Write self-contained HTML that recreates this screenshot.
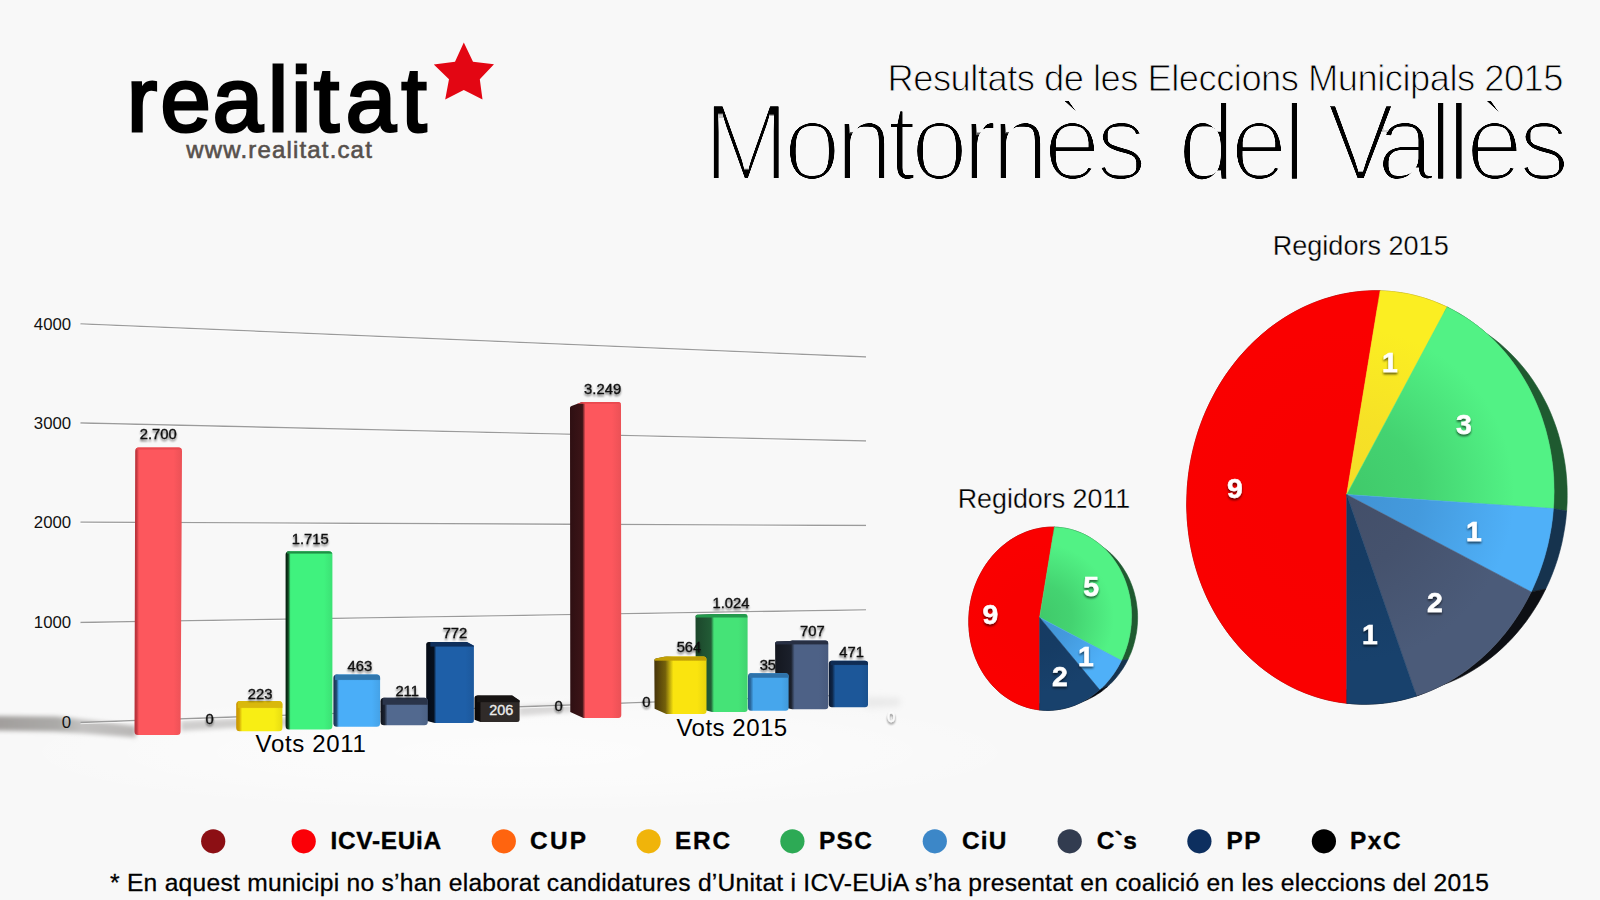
<!DOCTYPE html>
<html lang="ca">
<head>
<meta charset="utf-8">
<title>Resultats de les Eleccions Municipals 2015 - Montornès del Vallès</title>
<style>
html,body{margin:0;padding:0;background:#f8f8f8;}
body{width:1600px;height:900px;overflow:hidden;font-family:"Liberation Sans", Arial, Helvetica, sans-serif;}
svg{display:block;}
svg text{font-family:"Liberation Sans", Arial, Helvetica, sans-serif;}
</style>
</head>
<body>
<svg width="1600" height="900" viewBox="0 0 1600 900">
<defs>
<filter id="thin" x="-2%" y="-10%" width="104%" height="130%"><feMorphology operator="erode" radius="2 2" result="e"/><feComponentTransfer in="e"><feFuncA type="linear" slope="1.7" intercept="-0.05"/></feComponentTransfer></filter>
<filter id="blur4" x="-20%" y="-200%" width="140%" height="500%"><feGaussianBlur stdDeviation="3.2"/></filter>
<filter id="blur2" x="-20%" y="-200%" width="140%" height="500%"><feGaussianBlur stdDeviation="2"/></filter>
<linearGradient id="flsh" gradientUnits="userSpaceOnUse" x1="0" y1="0" x2="136" y2="0"><stop offset="0" stop-color="#a29f9d"/><stop offset="0.42" stop-color="#abaaa8"/><stop offset="0.6" stop-color="#c2c1c0"/><stop offset="1" stop-color="#b9b7b6"/></linearGradient>
<radialGradient id="floorglow" cx="0.5" cy="0.5" r="0.5"><stop offset="0" stop-color="#fff" stop-opacity="0.6"/><stop offset="0.6" stop-color="#fff" stop-opacity="0.35"/><stop offset="1" stop-color="#fff" stop-opacity="0"/></radialGradient>
<filter id="lblsh" x="-20%" y="-30%" width="140%" height="190%"><feGaussianBlur in="SourceAlpha" stdDeviation="1.1" result="b"/><feOffset in="b" dx="0" dy="1.6" result="o"/><feComponentTransfer in="o" result="s"><feFuncA type="linear" slope="0.55"/></feComponentTransfer><feMerge><feMergeNode in="s"/><feMergeNode in="SourceGraphic"/></feMerge></filter>
<linearGradient id="bg1" gradientUnits="userSpaceOnUse" x1="474.5" y1="0" x2="519.6" y2="0"><stop offset="0" stop-color="#0b0909"/><stop offset="0.111" stop-color="#0f0c0c"/><stop offset="0.155" stop-color="#302b29"/><stop offset="0.82" stop-color="#302b29"/><stop offset="1" stop-color="#2d2826"/></linearGradient>
<clipPath id="bc2"><path d="M477.00,695.60 L512.20,695.60 L519.60,700.60 L519.60,719.50 Q519.60,722.00 517.10,722.00 L480.50,722.00 L474.50,719.80 L474.50,698.10 Q474.50,695.60 477.00,695.60 Z"/></clipPath>
<linearGradient id="tg3" gradientUnits="userSpaceOnUse" x1="0" y1="695.6" x2="0" y2="702.8000000000001"><stop offset="0" stop-color="#171413"/><stop offset="0.833" stop-color="#171413"/><stop offset="1" stop-color="#171413" stop-opacity="0"/></linearGradient>
<linearGradient id="bg4" gradientUnits="userSpaceOnUse" x1="426.2" y1="0" x2="473.9" y2="0"><stop offset="0" stop-color="#050b16"/><stop offset="0.159" stop-color="#06101f"/><stop offset="0.210" stop-color="#1e5fa8"/><stop offset="0.82" stop-color="#1e5fa8"/><stop offset="1" stop-color="#1c589c"/></linearGradient>
<clipPath id="bc5"><path d="M428.70,642.00 L466.90,642.00 L473.90,645.80 L473.90,720.50 Q473.90,723.00 471.40,723.00 L434.80,723.00 L426.20,720.80 L426.20,644.50 Q426.20,642.00 428.70,642.00 Z"/></clipPath>
<linearGradient id="tg6" gradientUnits="userSpaceOnUse" x1="0" y1="642" x2="0" y2="647.2"><stop offset="0" stop-color="#0e2f5c"/><stop offset="0.769" stop-color="#0e2f5c"/><stop offset="1" stop-color="#0e2f5c" stop-opacity="0"/></linearGradient>
<linearGradient id="bg7" gradientUnits="userSpaceOnUse" x1="380.5" y1="0" x2="427.8" y2="0"><stop offset="0" stop-color="#0e1119"/><stop offset="0.085" stop-color="#1c2331"/><stop offset="0.148" stop-color="#52698f"/><stop offset="0.82" stop-color="#52698f"/><stop offset="1" stop-color="#4c6285"/></linearGradient>
<clipPath id="bc8"><path d="M384.00,697.80 L424.30,697.80 Q427.80,697.80 427.80,701.30 L427.80,721.70 Q427.80,725.20 424.30,725.20 L384.00,725.20 Q380.50,725.20 380.50,721.70 L380.50,701.30 Q380.50,697.80 384.00,697.80 Z"/></clipPath>
<linearGradient id="tg9" gradientUnits="userSpaceOnUse" x1="0" y1="697.8" x2="0" y2="705.4"><stop offset="0" stop-color="#2a3449"/><stop offset="0.842" stop-color="#2a3449"/><stop offset="1" stop-color="#2a3449" stop-opacity="0"/></linearGradient>
<linearGradient id="bg10" gradientUnits="userSpaceOnUse" x1="333.4" y1="0" x2="380.1" y2="0"><stop offset="0" stop-color="#18324e"/><stop offset="0.064" stop-color="#224b70"/><stop offset="0.118" stop-color="#4aaef8"/><stop offset="0.82" stop-color="#4aaef8"/><stop offset="1" stop-color="#45a2e7"/></linearGradient>
<clipPath id="bc11"><path d="M336.90,674.40 L376.60,674.40 Q380.10,674.40 380.10,677.90 L380.10,723.30 Q380.10,726.80 376.60,726.80 L336.90,726.80 Q333.40,726.80 333.40,723.30 L333.40,677.90 Q333.40,674.40 336.90,674.40 Z"/></clipPath>
<linearGradient id="tg12" gradientUnits="userSpaceOnUse" x1="0" y1="674.4" x2="0" y2="680.6"><stop offset="0" stop-color="#3077ae"/><stop offset="0.806" stop-color="#3077ae"/><stop offset="1" stop-color="#3077ae" stop-opacity="0"/></linearGradient>
<linearGradient id="bg13" gradientUnits="userSpaceOnUse" x1="285.6" y1="0" x2="332.4" y2="0"><stop offset="0" stop-color="#04190a"/><stop offset="0.056" stop-color="#104421"/><stop offset="0.107" stop-color="#40f27e"/><stop offset="0.82" stop-color="#40f27e"/><stop offset="1" stop-color="#3ce175"/></linearGradient>
<clipPath id="bc14"><path d="M289.10,551.20 L328.90,551.20 Q332.40,551.20 332.40,554.70 L332.40,726.10 Q332.40,729.60 328.90,729.60 L289.10,729.60 Q285.60,729.60 285.60,726.10 L285.60,554.70 Q285.60,551.20 289.10,551.20 Z"/></clipPath>
<linearGradient id="tg15" gradientUnits="userSpaceOnUse" x1="0" y1="551.2" x2="0" y2="554.2"><stop offset="0" stop-color="#1f8f45"/><stop offset="0.600" stop-color="#1f8f45"/><stop offset="1" stop-color="#1f8f45" stop-opacity="0"/></linearGradient>
<linearGradient id="bg16" gradientUnits="userSpaceOnUse" x1="236.2" y1="0" x2="282.4" y2="0"><stop offset="0" stop-color="#c99300"/><stop offset="0.065" stop-color="#d2a504"/><stop offset="0.130" stop-color="#f8ee14"/><stop offset="0.82" stop-color="#f8ee14"/><stop offset="1" stop-color="#e7dd13"/></linearGradient>
<clipPath id="bc17"><path d="M239.70,701.00 L278.90,701.00 Q282.40,701.00 282.40,704.50 L282.40,727.70 Q282.40,731.20 278.90,731.20 L239.70,731.20 Q236.20,731.20 236.20,727.70 L236.20,704.50 Q236.20,701.00 239.70,701.00 Z"/></clipPath>
<linearGradient id="tg18" gradientUnits="userSpaceOnUse" x1="0" y1="701" x2="0" y2="708.6"><stop offset="0" stop-color="#d9b80c"/><stop offset="0.842" stop-color="#d9b80c"/><stop offset="1" stop-color="#d9b80c" stop-opacity="0"/></linearGradient>
<linearGradient id="bg19" gradientUnits="userSpaceOnUse" x1="135.2" y1="0" x2="182" y2="0"><stop offset="0" stop-color="#b8323a"/><stop offset="0.034" stop-color="#c63941"/><stop offset="0.081" stop-color="#fd575d"/><stop offset="0.82" stop-color="#fd575d"/><stop offset="1" stop-color="#eb5156"/></linearGradient>
<clipPath id="bc20"><path d="M138.70,447.50 L178.50,447.50 Q182.00,447.50 182.00,451.00 L180.60,731.50 Q180.60,735.00 177.10,735.00 L138.00,735.00 Q134.50,735.00 134.50,731.50 L135.20,451.00 Q135.20,447.50 138.70,447.50 Z"/></clipPath>
<linearGradient id="tg21" gradientUnits="userSpaceOnUse" x1="0" y1="447.5" x2="0" y2="450.09999999999997"><stop offset="0" stop-color="#e8494f"/><stop offset="0.538" stop-color="#e8494f"/><stop offset="1" stop-color="#e8494f" stop-opacity="0"/></linearGradient>
<linearGradient id="bg22" gradientUnits="userSpaceOnUse" x1="828.8" y1="0" x2="868" y2="0"><stop offset="0" stop-color="#0a1830"/><stop offset="0.089" stop-color="#0e2545"/><stop offset="0.166" stop-color="#1c5799"/><stop offset="0.82" stop-color="#1c5799"/><stop offset="1" stop-color="#1a518e"/></linearGradient>
<clipPath id="bc23"><path d="M831.80,660.80 L865.00,660.80 Q868.00,660.80 868.00,663.80 L868.00,704.20 Q868.00,707.20 865.00,707.20 L831.80,707.20 Q828.80,707.20 828.80,704.20 L828.80,663.80 Q828.80,660.80 831.80,660.80 Z"/></clipPath>
<linearGradient id="tg24" gradientUnits="userSpaceOnUse" x1="0" y1="660.8" x2="0" y2="665.6"><stop offset="0" stop-color="#0f2c54"/><stop offset="0.750" stop-color="#0f2c54"/><stop offset="1" stop-color="#0f2c54" stop-opacity="0"/></linearGradient>
<linearGradient id="bg25" gradientUnits="userSpaceOnUse" x1="775.1" y1="0" x2="828.3" y2="0"><stop offset="0" stop-color="#14171f"/><stop offset="0.301" stop-color="#1b202b"/><stop offset="0.367" stop-color="#4d6186"/><stop offset="0.82" stop-color="#4d6186"/><stop offset="1" stop-color="#485a7d"/></linearGradient>
<clipPath id="bc26"><path d="M775.10,643.20 Q775.10,642.20 776.60,641.60 L790.10,640.90 Q791.10,640.60 792.60,640.60 L825.30,640.60 Q828.30,640.60 828.30,643.60 L828.30,706.30 Q828.30,709.30 825.30,709.30 L792.10,709.30 L775.40,705.30 Z"/></clipPath>
<linearGradient id="tg27" gradientUnits="userSpaceOnUse" x1="0" y1="640.6" x2="0" y2="645.0000000000001"><stop offset="0" stop-color="#272f43"/><stop offset="0.727" stop-color="#272f43"/><stop offset="1" stop-color="#272f43" stop-opacity="0"/></linearGradient>
<linearGradient id="bg28" gradientUnits="userSpaceOnUse" x1="748" y1="0" x2="788.6" y2="0"><stop offset="0" stop-color="#245a8a"/><stop offset="0.062" stop-color="#2b699e"/><stop offset="0.135" stop-color="#46a6ec"/><stop offset="0.82" stop-color="#46a6ec"/><stop offset="1" stop-color="#419adb"/></linearGradient>
<clipPath id="bc29"><path d="M751.00,673.20 L785.60,673.20 Q788.60,673.20 788.60,676.20 L788.60,707.80 Q788.60,710.80 785.60,710.80 L751.00,710.80 Q748.00,710.80 748.00,707.80 L748.00,676.20 Q748.00,673.20 751.00,673.20 Z"/></clipPath>
<linearGradient id="tg30" gradientUnits="userSpaceOnUse" x1="0" y1="673.2" x2="0" y2="678.4000000000001"><stop offset="0" stop-color="#2e72aa"/><stop offset="0.769" stop-color="#2e72aa"/><stop offset="1" stop-color="#2e72aa" stop-opacity="0"/></linearGradient>
<linearGradient id="bg31" gradientUnits="userSpaceOnUse" x1="695.5" y1="0" x2="747.6" y2="0"><stop offset="0" stop-color="#1c462b"/><stop offset="0.298" stop-color="#225c36"/><stop offset="0.355" stop-color="#45e377"/><stop offset="0.82" stop-color="#45e377"/><stop offset="1" stop-color="#40d36f"/></linearGradient>
<clipPath id="bc32"><path d="M695.50,616.30 Q695.50,615.30 697.00,614.70 L710.00,614.20 Q711.00,613.90 712.50,613.90 L744.60,613.90 Q747.60,613.90 747.60,616.90 L747.60,708.90 Q747.60,711.90 744.60,711.90 L712.00,711.90 L695.80,707.40 Z"/></clipPath>
<linearGradient id="tg33" gradientUnits="userSpaceOnUse" x1="0" y1="613.9" x2="0" y2="618.1"><stop offset="0" stop-color="#249a4d"/><stop offset="0.714" stop-color="#249a4d"/><stop offset="1" stop-color="#249a4d" stop-opacity="0"/></linearGradient>
<linearGradient id="bg34" gradientUnits="userSpaceOnUse" x1="654.3" y1="0" x2="706.5" y2="0"><stop offset="0" stop-color="#46340a"/><stop offset="0.211" stop-color="#73600b"/><stop offset="0.364" stop-color="#fae40f"/><stop offset="0.82" stop-color="#fae40f"/><stop offset="1" stop-color="#e8d40e"/></linearGradient>
<clipPath id="bc35"><path d="M654.30,660.00 Q654.30,659.00 655.80,658.40 L664.30,656.70 Q665.30,656.40 666.80,656.40 L703.50,656.40 Q706.50,656.40 706.50,659.40 L706.50,711.00 Q706.50,714.00 703.50,714.00 L666.30,714.00 L654.60,708.70 Z"/></clipPath>
<linearGradient id="tg36" gradientUnits="userSpaceOnUse" x1="0" y1="656.4" x2="0" y2="661.3000000000001"><stop offset="0" stop-color="#c2a005"/><stop offset="0.755" stop-color="#c2a005"/><stop offset="1" stop-color="#c2a005" stop-opacity="0"/></linearGradient>
<linearGradient id="bg37" gradientUnits="userSpaceOnUse" x1="570" y1="0" x2="621" y2="0"><stop offset="0" stop-color="#2e0f12"/><stop offset="0.243" stop-color="#3c1417"/><stop offset="0.302" stop-color="#fd575d"/><stop offset="0.82" stop-color="#fd575d"/><stop offset="1" stop-color="#eb5156"/></linearGradient>
<clipPath id="bc38"><path d="M570.00,407.70 Q570.00,406.70 571.50,406.10 L581.40,402.30 Q582.40,402.00 583.90,402.00 L618.00,402.00 Q621.00,402.00 621.00,405.00 L621.30,715.00 Q621.30,718.00 618.30,718.00 L583.40,718.00 L570.30,712.00 Z"/></clipPath>
<linearGradient id="tg39" gradientUnits="userSpaceOnUse" x1="0" y1="402" x2="0" y2="404.4"><stop offset="0" stop-color="#e9494f"/><stop offset="0.500" stop-color="#e9494f"/><stop offset="1" stop-color="#e9494f" stop-opacity="0"/></linearGradient>
<filter id="pielbl" x="-40%" y="-30%" width="180%" height="190%"><feGaussianBlur in="SourceAlpha" stdDeviation="0.9" result="b"/><feOffset in="b" dx="0.4" dy="1.5" result="o"/><feComponentTransfer in="o" result="s"><feFuncA type="linear" slope="0.6"/></feComponentTransfer><feMerge><feMergeNode in="s"/><feMergeNode in="SourceGraphic"/></feMerge></filter>
<radialGradient id="rg40" gradientUnits="userSpaceOnUse" cx="1346.7" cy="494.5" r="209.5"><stop offset="0" stop-color="#f80000"/><stop offset="0.35" stop-color="#f80000"/><stop offset="0.8" stop-color="#fa0000"/><stop offset="1" stop-color="#fa0000"/></radialGradient>
<radialGradient id="rg41" gradientUnits="userSpaceOnUse" cx="1346.7" cy="494.5" r="209.5"><stop offset="0" stop-color="#f4dd28"/><stop offset="0.35" stop-color="#f6e126"/><stop offset="0.8" stop-color="#fbee22"/><stop offset="1" stop-color="#fbee22"/></radialGradient>
<radialGradient id="rg42" gradientUnits="userSpaceOnUse" cx="1346.7" cy="494.5" r="209.5"><stop offset="0" stop-color="#40c96a"/><stop offset="0.35" stop-color="#44d371"/><stop offset="0.8" stop-color="#52f285"/><stop offset="1" stop-color="#52f285"/></radialGradient>
<radialGradient id="rg43" gradientUnits="userSpaceOnUse" cx="1346.7" cy="494.5" r="209.5"><stop offset="0" stop-color="#4193d4"/><stop offset="0.35" stop-color="#449add"/><stop offset="0.8" stop-color="#4fb0f8"/><stop offset="1" stop-color="#4fb0f8"/></radialGradient>
<radialGradient id="rg44" gradientUnits="userSpaceOnUse" cx="1346.7" cy="494.5" r="209.5"><stop offset="0" stop-color="#434f69"/><stop offset="0.35" stop-color="#45526d"/><stop offset="0.8" stop-color="#4b5b79"/><stop offset="1" stop-color="#4b5b79"/></radialGradient>
<radialGradient id="rg45" gradientUnits="userSpaceOnUse" cx="1346.7" cy="494.5" r="209.5"><stop offset="0" stop-color="#163b62"/><stop offset="0.35" stop-color="#163c64"/><stop offset="0.8" stop-color="#18416c"/><stop offset="1" stop-color="#18416c"/></radialGradient>
<radialGradient id="rg46" gradientUnits="userSpaceOnUse" cx="1039.6" cy="617.4" r="92.8"><stop offset="0" stop-color="#f80000"/><stop offset="0.35" stop-color="#f80000"/><stop offset="0.8" stop-color="#fa0000"/><stop offset="1" stop-color="#fa0000"/></radialGradient>
<radialGradient id="rg47" gradientUnits="userSpaceOnUse" cx="1039.6" cy="617.4" r="92.8"><stop offset="0" stop-color="#40c96a"/><stop offset="0.35" stop-color="#44d371"/><stop offset="0.8" stop-color="#52f285"/><stop offset="1" stop-color="#52f285"/></radialGradient>
<radialGradient id="rg48" gradientUnits="userSpaceOnUse" cx="1039.6" cy="617.4" r="92.8"><stop offset="0" stop-color="#4193d4"/><stop offset="0.35" stop-color="#449add"/><stop offset="0.8" stop-color="#4fb0f8"/><stop offset="1" stop-color="#4fb0f8"/></radialGradient>
<radialGradient id="rg49" gradientUnits="userSpaceOnUse" cx="1039.6" cy="617.4" r="92.8"><stop offset="0" stop-color="#163b62"/><stop offset="0.35" stop-color="#163c64"/><stop offset="0.8" stop-color="#18416c"/><stop offset="1" stop-color="#18416c"/></radialGradient>
</defs>
<rect width="1600" height="900" fill="#f8f8f8"/>
<g id="logo">
<text x="127.1 160.4 212.8 268 291.2 314 345.7 401.6" y="130.5" font-size="90.3" fill="#000" stroke="#000" stroke-width="3.05" stroke-linejoin="miter">realitat</text>
<text x="186.3" y="157.8" font-size="24" fill="#57504c" textLength="185.5" lengthAdjust="spacing" stroke="#57504c" stroke-width="0.6">www.realitat.cat</text>
<polygon fill="#e30613" points="463.8,42.5 473,61.8 494,64.2 479.8,79.2 482.5,99.5 463.8,90 445.2,99.5 449,79.2 433.8,64.5 455,61.8"/>
</g>
<g id="titles">
<g filter="url(#thin)">
<text transform="translate(703.6,179.8) scale(0.94,1)" font-size="109" fill="#000"><tspan letter-spacing="-5.42">Montornès </tspan><tspan x="504.57" letter-spacing="-4.7">del </tspan><tspan x="662.55" letter-spacing="-19.2">V</tspan><tspan letter-spacing="-4.7">allès</tspan></text>
</g>
<text x="1563.5" y="90.6" font-size="36.3" fill="#000" text-anchor="end" textLength="676" lengthAdjust="spacing" stroke="#f8f8f8" stroke-width="0.9">Resultats de les Eleccions Municipals 2015</text>
</g>
<g id="barchart">
<ellipse cx="520" cy="752" rx="520" ry="62" fill="url(#floorglow)"/>
<polygon points="-12,716 56,716.5 92,720.5 136,726 136,737.5 92,734 56,731.5 -12,730.5" fill="url(#flsh)" filter="url(#blur2)"/>
<polygon points="181,721 238,718.5 290,717.5 290,726 238,727.5 181,731" fill="#cfcecd" filter="url(#blur2)"/>
<polygon points="519,706 572,703.5 572,712 519,716" fill="#d9d8d8" filter="url(#blur2)"/>
<polygon points="866,697 900,698 900,706 866,708" fill="#e9e9e9" filter="url(#blur4)"/>
<line x1="80.5" y1="323.8" x2="866" y2="357.0" stroke="#9b9b9b" stroke-width="1.3"/>
<line x1="80.5" y1="325.0" x2="866" y2="358.2" stroke="#ffffff" stroke-opacity="0.7" stroke-width="1"/>
<line x1="80.5" y1="423.0" x2="866" y2="441.0" stroke="#9b9b9b" stroke-width="1.3"/>
<line x1="80.5" y1="424.2" x2="866" y2="442.2" stroke="#ffffff" stroke-opacity="0.7" stroke-width="1"/>
<line x1="80.5" y1="522.2" x2="866" y2="525.5" stroke="#9b9b9b" stroke-width="1.3"/>
<line x1="80.5" y1="523.4000000000001" x2="866" y2="526.7" stroke="#ffffff" stroke-opacity="0.7" stroke-width="1"/>
<line x1="80.5" y1="622.5" x2="866" y2="609.8" stroke="#9b9b9b" stroke-width="1.3"/>
<line x1="80.5" y1="623.7" x2="866" y2="611.0" stroke="#ffffff" stroke-opacity="0.7" stroke-width="1"/>
<line x1="80.5" y1="722.5" x2="866" y2="694.5" stroke="#9b9b9b" stroke-width="1.3"/>
<line x1="80.5" y1="723.7" x2="866" y2="695.7" stroke="#ffffff" stroke-opacity="0.7" stroke-width="1"/>
<text x="71.2" y="329.6" font-size="16.8" fill="#111" text-anchor="end">4000</text>
<text x="71.2" y="428.9" font-size="16.8" fill="#111" text-anchor="end">3000</text>
<text x="71.2" y="528.2" font-size="16.8" fill="#111" text-anchor="end">2000</text>
<text x="71.2" y="628.2" font-size="16.8" fill="#111" text-anchor="end">1000</text>
<text x="71.2" y="728.0" font-size="16.8" fill="#111" text-anchor="end">0</text>
<path d="M477.00,695.60 L512.20,695.60 L519.60,700.60 L519.60,719.50 Q519.60,722.00 517.10,722.00 L480.50,722.00 L474.50,719.80 L474.50,698.10 Q474.50,695.60 477.00,695.60 Z" fill="url(#bg1)"/>
<rect x="477.25" y="694.6" width="45.10000000000002" height="8.2" fill="url(#tg3)" clip-path="url(#bc2)"/>
<text x="501.2" y="715.2" font-size="14.4" fill="#ececec" text-anchor="middle" stroke="#ececec" stroke-width="0.35">206</text>
<path d="M428.70,642.00 L466.90,642.00 L473.90,645.80 L473.90,720.50 Q473.90,723.00 471.40,723.00 L434.80,723.00 L426.20,720.80 L426.20,644.50 Q426.20,642.00 428.70,642.00 Z" fill="url(#bg4)"/>
<rect x="430.38" y="641" width="47.69999999999999" height="6.2" fill="url(#tg6)" clip-path="url(#bc5)"/>
<path d="M384.00,697.80 L424.30,697.80 Q427.80,697.80 427.80,701.30 L427.80,721.70 Q427.80,725.20 424.30,725.20 L384.00,725.20 Q380.50,725.20 380.50,721.70 L380.50,701.30 Q380.50,697.80 384.00,697.80 Z" fill="url(#bg7)"/>
<rect x="382.70" y="696.8" width="47.30000000000001" height="8.600000000000001" fill="url(#tg9)" clip-path="url(#bc8)"/>
<path d="M336.90,674.40 L376.60,674.40 Q380.10,674.40 380.10,677.90 L380.10,723.30 Q380.10,726.80 376.60,726.80 L336.90,726.80 Q333.40,726.80 333.40,723.30 L333.40,677.90 Q333.40,674.40 336.90,674.40 Z" fill="url(#bg10)"/>
<rect x="335.05" y="673.4" width="46.700000000000045" height="7.2" fill="url(#tg12)" clip-path="url(#bc11)"/>
<path d="M289.10,551.20 L328.90,551.20 Q332.40,551.20 332.40,554.70 L332.40,726.10 Q332.40,729.60 328.90,729.60 L289.10,729.60 Q285.60,729.60 285.60,726.10 L285.60,554.70 Q285.60,551.20 289.10,551.20 Z" fill="url(#bg13)"/>
<rect x="287.03" y="550.2" width="46.799999999999955" height="4.0" fill="url(#tg15)" clip-path="url(#bc14)"/>
<path d="M239.70,701.00 L278.90,701.00 Q282.40,701.00 282.40,704.50 L282.40,727.70 Q282.40,731.20 278.90,731.20 L239.70,731.20 Q236.20,731.20 236.20,727.70 L236.20,704.50 Q236.20,701.00 239.70,701.00 Z" fill="url(#bg16)"/>
<rect x="237.85" y="700" width="46.19999999999999" height="8.600000000000001" fill="url(#tg18)" clip-path="url(#bc17)"/>
<path d="M138.70,447.50 L178.50,447.50 Q182.00,447.50 182.00,451.00 L180.60,731.50 Q180.60,735.00 177.10,735.00 L138.00,735.00 Q134.50,735.00 134.50,731.50 L135.20,451.00 Q135.20,447.50 138.70,447.50 Z" fill="url(#bg19)"/>
<rect x="136.08" y="446.5" width="46.80000000000001" height="3.6" fill="url(#tg21)" clip-path="url(#bc20)"/>
<path d="M831.80,660.80 L865.00,660.80 Q868.00,660.80 868.00,663.80 L868.00,704.20 Q868.00,707.20 865.00,707.20 L831.80,707.20 Q828.80,707.20 828.80,704.20 L828.80,663.80 Q828.80,660.80 831.80,660.80 Z" fill="url(#bg22)"/>
<rect x="830.72" y="659.8" width="39.200000000000045" height="5.800000000000001" fill="url(#tg24)" clip-path="url(#bc23)"/>
<text x="772" y="669.8" font-size="14.8" fill="#111" text-anchor="middle" filter="url(#lblsh)" stroke="#111" stroke-width="0.35">356</text>
<path d="M775.10,643.20 Q775.10,642.20 776.60,641.60 L790.10,640.90 Q791.10,640.60 792.60,640.60 L825.30,640.60 Q828.30,640.60 828.30,643.60 L828.30,706.30 Q828.30,709.30 825.30,709.30 L792.10,709.30 L775.40,705.30 Z" fill="url(#bg25)"/>
<rect x="775.10" y="639.6" width="53.19999999999993" height="5.4" fill="url(#tg27)" clip-path="url(#bc26)"/>
<path d="M751.00,673.20 L785.60,673.20 Q788.60,673.20 788.60,676.20 L788.60,707.80 Q788.60,710.80 785.60,710.80 L751.00,710.80 Q748.00,710.80 748.00,707.80 L748.00,676.20 Q748.00,673.20 751.00,673.20 Z" fill="url(#bg28)"/>
<rect x="749.38" y="672.2" width="40.60000000000002" height="6.2" fill="url(#tg30)" clip-path="url(#bc29)"/>
<path d="M695.50,616.30 Q695.50,615.30 697.00,614.70 L710.00,614.20 Q711.00,613.90 712.50,613.90 L744.60,613.90 Q747.60,613.90 747.60,616.90 L747.60,708.90 Q747.60,711.90 744.60,711.90 L712.00,711.90 L695.80,707.40 Z" fill="url(#bg31)"/>
<rect x="695.50" y="612.9" width="52.10000000000002" height="5.2" fill="url(#tg33)" clip-path="url(#bc32)"/>
<path d="M654.30,660.00 Q654.30,659.00 655.80,658.40 L664.30,656.70 Q665.30,656.40 666.80,656.40 L703.50,656.40 Q706.50,656.40 706.50,659.40 L706.50,711.00 Q706.50,714.00 703.50,714.00 L666.30,714.00 L654.60,708.70 Z" fill="url(#bg34)"/>
<rect x="654.30" y="655.4" width="52.200000000000045" height="5.9" fill="url(#tg36)" clip-path="url(#bc35)"/>
<path d="M570.00,407.70 Q570.00,406.70 571.50,406.10 L581.40,402.30 Q582.40,402.00 583.90,402.00 L618.00,402.00 Q621.00,402.00 621.00,405.00 L621.30,715.00 Q621.30,718.00 618.30,718.00 L583.40,718.00 L570.30,712.00 Z" fill="url(#bg37)"/>
<rect x="570.00" y="401" width="51" height="3.4000000000000004" fill="url(#tg39)" clip-path="url(#bc38)"/>
<text x="158.2" y="439.3" font-size="14.8" fill="#111" text-anchor="middle" filter="url(#lblsh)" stroke="#111" stroke-width="0.35">2.700</text>
<text x="209.5" y="724.3" font-size="14.8" fill="#111" text-anchor="middle" filter="url(#lblsh)" stroke="#111" stroke-width="0.35">0</text>
<text x="260.2" y="699.3" font-size="14.8" fill="#111" text-anchor="middle" filter="url(#lblsh)" stroke="#111" stroke-width="0.35">223</text>
<text x="310.2" y="543.8" font-size="14.8" fill="#111" text-anchor="middle" filter="url(#lblsh)" stroke="#111" stroke-width="0.35">1.715</text>
<text x="359.9" y="671.3" font-size="14.8" fill="#111" text-anchor="middle" filter="url(#lblsh)" stroke="#111" stroke-width="0.35">463</text>
<text x="407.2" y="695.8" font-size="14.8" fill="#111" text-anchor="middle" filter="url(#lblsh)" stroke="#111" stroke-width="0.35">211</text>
<text x="455" y="637.5" font-size="14.8" fill="#111" text-anchor="middle" filter="url(#lblsh)" stroke="#111" stroke-width="0.35">772</text>
<text x="558.5" y="710.8" font-size="14.8" fill="#111" text-anchor="middle" filter="url(#lblsh)" stroke="#111" stroke-width="0.35">0</text>
<text x="602.6" y="393.8" font-size="14.8" fill="#111" text-anchor="middle" filter="url(#lblsh)" stroke="#111" stroke-width="0.35">3.249</text>
<text x="646.4" y="707.1" font-size="14.8" fill="#111" text-anchor="middle" filter="url(#lblsh)" stroke="#111" stroke-width="0.35">0</text>
<text x="689" y="652" font-size="14.8" fill="#111" text-anchor="middle" filter="url(#lblsh)" stroke="#111" stroke-width="0.35">564</text>
<text x="731" y="607.5" font-size="14.8" fill="#111" text-anchor="middle" filter="url(#lblsh)" stroke="#111" stroke-width="0.35">1.024</text>
<text x="812.4" y="635.6" font-size="14.8" fill="#111" text-anchor="middle" filter="url(#lblsh)" stroke="#111" stroke-width="0.35">707</text>
<text x="851.7" y="656.7" font-size="14.8" fill="#111" text-anchor="middle" filter="url(#lblsh)" stroke="#111" stroke-width="0.35">471</text>
<text x="891.2" y="722.4" font-size="14.4" fill="#fbfbfb" text-anchor="middle" filter="url(#lblsh)" stroke="#fbfbfb" stroke-width="0.35">0</text>
<text x="255.6" y="752.2" font-size="24" fill="#000" textLength="110.2" lengthAdjust="spacing">Vots 2011</text>
<text x="676.4" y="735.8" font-size="24" fill="#000" textLength="110.8" lengthAdjust="spacing">Vots 2015</text>
</g>
<g id="pies">
<polygon fill="#7a0000" stroke="#7a0000" stroke-width="0.6" points="1346.7,703.2 1340.3,702.4 1333.9,701.3 1327.7,700.0 1321.5,698.4 1315.4,696.6 1309.4,694.5 1303.5,692.2 1297.7,689.8 1292.0,687.1 1286.4,684.1 1280.9,681.0 1275.6,677.7 1270.4,674.2 1265.3,670.6 1260.4,666.7 1255.6,662.7 1250.9,658.5 1246.4,654.2 1242.0,649.7 1237.8,645.1 1233.8,640.3 1229.9,635.4 1226.2,630.4 1222.6,625.2 1219.2,620.0 1215.9,614.6 1212.8,609.1 1209.9,603.5 1207.2,597.9 1204.6,592.1 1202.2,586.3 1200.0,580.4 1197.9,574.4 1196.0,568.4 1194.3,562.3 1192.8,556.2 1191.4,550.0 1190.2,543.8 1189.2,537.5 1188.4,531.2 1187.7,524.9 1187.2,518.6 1186.9,512.2 1186.7,505.9 1186.8,499.5 1187.0,493.2 1187.3,486.8 1187.9,480.5 1188.6,474.2 1189.5,467.9 1190.6,461.6 1191.8,455.4 1193.2,449.2 1194.8,443.0 1196.5,436.9 1198.4,430.8 1200.5,424.8 1202.7,418.9 1205.1,413.0 1207.7,407.2 1210.4,401.5 1213.3,395.9 1216.3,390.3 1219.5,384.8 1222.8,379.5 1226.3,374.2 1230.0,369.1 1233.8,364.0 1237.7,359.1 1241.8,354.3 1246.0,349.7 1250.4,345.2 1254.9,340.8 1259.5,336.6 1264.3,332.5 1269.1,328.5 1274.1,324.8 1279.3,321.2 1284.5,317.8 1289.9,314.5 1295.3,311.5 1300.9,308.6 1306.5,305.9 1312.3,303.4 1318.1,301.2 1324.0,299.1 1330.0,297.3 1336.1,295.6 1342.2,294.2 1348.4,293.1 1354.7,292.1 1361.0,291.4 1367.3,291.0 1373.7,290.7 1380.1,290.8 1401.6,305.4 1395.5,305.3 1389.4,305.4 1383.3,305.8 1377.3,306.4 1371.3,307.2 1365.4,308.3 1359.5,309.6 1353.6,311.0 1347.9,312.7 1342.2,314.6 1336.6,316.7 1331.0,319.0 1325.6,321.5 1320.3,324.1 1315.0,327.0 1309.8,330.0 1304.8,333.2 1299.9,336.6 1295.0,340.1 1290.3,343.8 1285.7,347.6 1281.3,351.6 1277.0,355.7 1272.7,360.0 1268.7,364.4 1264.7,368.9 1260.9,373.5 1257.3,378.3 1253.8,383.1 1250.4,388.1 1247.2,393.1 1244.1,398.3 1241.1,403.6 1238.4,408.9 1235.7,414.3 1233.3,419.8 1231.0,425.4 1228.8,431.0 1226.8,436.7 1225.0,442.5 1223.3,448.2 1221.8,454.1 1220.5,460.0 1219.3,465.9 1218.3,471.9 1217.4,477.8 1216.7,483.8 1216.2,489.8 1215.9,495.9 1215.7,501.9 1215.7,507.9 1215.8,514.0 1216.2,520.0 1216.7,526.0 1217.3,532.0 1218.2,538.0 1219.2,543.9 1220.3,549.8 1221.7,555.7 1223.2,561.5 1224.9,567.3 1226.7,573.0 1228.7,578.6 1230.9,584.2 1233.3,589.8 1235.8,595.2 1238.5,600.6 1241.3,605.8 1244.3,611.0 1247.5,616.1 1250.8,621.1 1254.2,625.9 1257.9,630.7 1261.6,635.3 1265.6,639.8 1269.7,644.2 1273.9,648.4 1278.2,652.5 1282.7,656.4 1287.4,660.2 1292.2,663.8 1297.1,667.2 1302.1,670.5 1307.2,673.6 1312.5,676.5 1317.9,679.2 1323.4,681.7 1328.9,684.0 1334.6,686.1 1340.4,688.0 1346.3,689.7 1352.2,691.2 1358.2,692.4 1364.3,693.4 1370.5,694.2"/>
<polygon fill="#8a7d10" stroke="#8a7d10" stroke-width="0.6" points="1380.1,290.8 1386.8,291.1 1393.6,291.7 1400.4,292.6 1407.2,293.7 1413.9,295.2 1420.6,297.0 1427.3,299.0 1433.9,301.4 1440.5,304.1 1447.0,307.0 1465.5,321.3 1459.4,318.5 1453.1,315.9 1446.8,313.6 1440.4,311.6 1434.0,309.9 1427.5,308.5 1421.1,307.3 1414.6,306.4 1408.1,305.8 1401.6,305.4"/>
<polygon fill="#1f5a30" stroke="#1f5a30" stroke-width="0.6" points="1447.0,307.0 1453.2,310.2 1459.3,313.6 1465.3,317.3 1471.2,321.3 1477.0,325.6 1482.7,330.1 1488.2,334.9 1493.5,339.9 1498.7,345.2 1503.7,350.8 1508.6,356.6 1513.2,362.6 1517.6,368.9 1521.9,375.4 1525.8,382.1 1529.6,389.0 1533.1,396.1 1536.4,403.4 1539.4,410.8 1542.2,418.4 1544.6,426.2 1546.8,434.0 1548.8,442.0 1550.4,450.2 1551.7,458.3 1552.8,466.6 1553.5,474.9 1553.9,483.3 1554.1,491.7 1553.9,500.2 1553.4,508.6 1566.6,511.0 1567.1,503.2 1567.2,495.3 1567.1,487.4 1566.7,479.6 1566.0,471.8 1565.0,464.0 1563.7,456.3 1562.2,448.8 1560.3,441.3 1558.3,433.9 1555.9,426.6 1553.3,419.5 1550.5,412.5 1547.4,405.6 1544.0,399.0 1540.5,392.5 1536.7,386.2 1532.7,380.0 1528.5,374.1 1524.1,368.4 1519.5,363.0 1514.7,357.7 1509.8,352.7 1504.7,347.9 1499.5,343.3 1494.1,339.0 1488.6,335.0 1483.0,331.2 1477.3,327.6 1471.5,324.4 1465.5,321.3"/>
<polygon fill="#16334e" stroke="#16334e" stroke-width="0.6" points="1553.4,508.6 1552.6,517.3 1551.5,525.9 1550.0,534.5 1548.2,543.1 1546.1,551.5 1543.7,559.8 1541.0,568.1 1538.0,576.2 1534.7,584.1 1531.2,591.9 1545.7,589.0 1549.1,581.7 1552.2,574.2 1555.0,566.7 1557.6,559.0 1559.8,551.2 1561.8,543.3 1563.4,535.3 1564.8,527.2 1565.9,519.2 1566.6,511.0"/>
<polygon fill="#0d0f14" stroke="#0d0f14" stroke-width="0.6" points="1531.2,591.9 1527.5,599.1 1523.6,606.2 1519.5,613.1 1515.1,619.8 1510.5,626.3 1505.8,632.5 1500.8,638.6 1495.6,644.4 1490.3,649.9 1484.8,655.3 1479.1,660.3 1473.3,665.1 1467.4,669.7 1461.3,673.9 1455.1,677.9 1448.9,681.7 1442.5,685.1 1436.1,688.2 1429.6,691.1 1423.0,693.7 1416.4,696.0 1437.0,686.9 1443.3,684.7 1449.5,682.3 1455.7,679.6 1461.9,676.6 1467.9,673.3 1473.8,669.8 1479.7,666.0 1485.4,662.0 1491.1,657.7 1496.6,653.2 1501.9,648.4 1507.1,643.4 1512.2,638.2 1517.1,632.7 1521.8,627.0 1526.3,621.2 1530.6,615.1 1534.7,608.8 1538.6,602.4 1542.3,595.7 1545.7,589.0"/>
<polygon fill="#05080e" stroke="#05080e" stroke-width="0.6" points="1416.4,696.0 1409.4,698.1 1402.4,699.9 1395.4,701.4 1388.4,702.6 1381.3,703.4 1374.3,704.0 1367.4,704.2 1360.4,704.2 1353.5,703.9 1346.7,703.2 1370.5,694.2 1377.0,694.7 1383.6,695.0 1390.2,695.0 1396.9,694.7 1403.6,694.1 1410.3,693.3 1417.0,692.1 1423.7,690.7 1430.4,689.0 1437.0,686.9"/>
<polygon fill="url(#rg40)" stroke="#f90000" stroke-width="0.5" stroke-linejoin="round" points="1346.7,494.5 1346.7,703.2 1341.9,702.6 1337.1,701.9 1332.4,701.0 1327.7,700.0 1323.1,698.8 1318.5,697.5 1313.9,696.1 1309.5,694.5 1305.0,692.9 1300.7,691.1 1296.3,689.2 1292.1,687.1 1287.9,685.0 1283.8,682.7 1279.7,680.3 1275.7,677.8 1271.8,675.3 1268.0,672.6 1264.2,669.8 1260.5,666.9 1256.9,663.9 1253.4,660.8 1250.0,657.7 1246.6,654.4 1243.3,651.1 1240.1,647.7 1237.0,644.2 1234.0,640.6 1231.1,636.9 1228.2,633.2 1225.5,629.4 1222.8,625.6 1220.2,621.6 1217.7,617.6 1215.4,613.6 1213.1,609.5 1210.9,605.3 1208.7,601.1 1206.7,596.9 1204.8,592.6 1203.0,588.2 1201.3,583.9 1199.6,579.4 1198.1,575.0 1196.7,570.5 1195.3,565.9 1194.1,561.4 1192.9,556.8 1191.9,552.1 1190.9,547.5 1190.1,542.8 1189.3,538.2 1188.6,533.5 1188.1,528.8 1187.6,524.0 1187.2,519.3 1187.0,514.5 1186.8,509.8 1186.7,505.0 1186.8,500.3 1186.9,495.5 1187.1,490.8 1187.4,486.0 1187.8,481.3 1188.3,476.6 1188.9,471.8 1189.6,467.1 1190.4,462.4 1191.3,457.8 1192.3,453.1 1193.4,448.5 1194.5,443.9 1195.8,439.3 1197.2,434.7 1198.6,430.2 1200.2,425.7 1201.8,421.3 1203.5,416.8 1205.4,412.5 1207.3,408.1 1209.3,403.8 1211.4,399.6 1213.5,395.4 1215.8,391.2 1218.2,387.1 1220.6,383.1 1223.1,379.1 1225.7,375.1 1228.4,371.3 1231.2,367.4 1234.1,363.7 1237.0,360.0 1240.0,356.4 1243.1,352.9 1246.3,349.4 1249.5,346.0 1252.9,342.7 1256.3,339.5 1259.8,336.3 1263.3,333.3 1266.9,330.3 1270.6,327.4 1274.4,324.6 1278.2,321.9 1282.1,319.3 1286.0,316.8 1290.1,314.4 1294.1,312.1 1298.3,309.9 1302.5,307.8 1306.7,305.8 1311.0,304.0 1315.3,302.2 1319.7,300.6 1324.2,299.1 1328.7,297.7 1333.2,296.4 1337.7,295.2 1342.3,294.2 1347.0,293.3 1351.6,292.6 1356.3,291.9 1361.0,291.4 1365.8,291.0 1370.5,290.8 1375.3,290.7 1380.1,290.8"/>
<polygon fill="url(#rg41)" stroke="#f8e724" stroke-width="0.5" stroke-linejoin="round" points="1346.7,494.5 1380.1,290.8 1384.9,291.0 1389.7,291.3 1394.6,291.8 1399.4,292.4 1404.3,293.2 1409.1,294.1 1413.9,295.2 1418.7,296.4 1423.5,297.8 1428.3,299.4 1433.0,301.0 1437.7,302.9 1442.4,304.9 1447.0,307.0"/>
<polygon fill="url(#rg42)" stroke="#4be27a" stroke-width="0.5" stroke-linejoin="round" points="1346.7,494.5 1447.0,307.0 1451.6,309.3 1456.1,311.8 1460.6,314.4 1465.0,317.1 1469.4,320.0 1473.7,323.1 1478.0,326.3 1482.1,329.6 1486.2,333.1 1490.2,336.8 1494.2,340.5 1498.0,344.5 1501.7,348.5 1505.4,352.7 1508.9,357.0 1512.3,361.5 1515.7,366.0 1518.9,370.7 1521.9,375.5 1524.9,380.5 1527.8,385.5 1530.5,390.7 1533.0,395.9 1535.5,401.3 1537.8,406.7 1540.0,412.2 1542.0,417.9 1543.8,423.6 1545.6,429.3 1547.1,435.2 1548.5,441.1 1549.8,447.1 1550.9,453.1 1551.8,459.1 1552.6,465.2 1553.2,471.4 1553.7,477.5 1553.9,483.7 1554.1,489.9 1554.0,496.1 1553.8,502.4 1553.4,508.6"/>
<polygon fill="url(#rg43)" stroke="#49a4ea" stroke-width="0.5" stroke-linejoin="round" points="1346.7,494.5 1553.4,508.6 1552.9,514.8 1552.2,521.0 1551.3,527.2 1550.2,533.3 1549.0,539.4 1547.7,545.5 1546.1,551.5 1544.5,557.5 1542.6,563.4 1540.6,569.2 1538.5,575.0 1536.2,580.7 1533.8,586.3 1531.2,591.9"/>
<polygon fill="url(#rg44)" stroke="#485673" stroke-width="0.5" stroke-linejoin="round" points="1346.7,494.5 1531.2,591.9 1528.5,597.3 1525.6,602.7 1522.6,607.9 1519.5,613.1 1516.2,618.1 1512.9,623.0 1509.4,627.8 1505.8,632.5 1502.0,637.1 1498.2,641.5 1494.3,645.8 1490.3,649.9 1486.2,654.0 1482.0,657.8 1477.7,661.6 1473.3,665.1 1468.9,668.6 1464.4,671.8 1459.8,675.0 1455.1,677.9 1450.4,680.8 1445.7,683.4 1440.9,685.9 1436.1,688.2 1431.2,690.4 1426.3,692.4 1421.3,694.3 1416.4,696.0"/>
<polygon fill="url(#rg45)" stroke="#173f68" stroke-width="0.5" stroke-linejoin="round" points="1346.7,494.5 1416.4,696.0 1411.4,697.5 1406.4,698.9 1401.4,700.1 1396.4,701.2 1391.4,702.1 1386.3,702.8 1381.3,703.4 1376.3,703.8 1371.3,704.1 1366.4,704.2 1361.4,704.2 1356.5,704.0 1351.6,703.7 1346.7,703.2"/>
<text x="1235" y="497.6" font-size="28.4" font-weight="bold" fill="#fff" stroke="#fff" stroke-width="0.5" text-anchor="middle" filter="url(#pielbl)">9</text>
<text x="1390" y="371.6" font-size="28.4" font-weight="bold" fill="#fff" stroke="#fff" stroke-width="0.5" text-anchor="middle" filter="url(#pielbl)">1</text>
<text x="1464" y="433.5" font-size="28.4" font-weight="bold" fill="#fff" stroke="#fff" stroke-width="0.5" text-anchor="middle" filter="url(#pielbl)">3</text>
<text x="1474" y="540.9" font-size="28.4" font-weight="bold" fill="#fff" stroke="#fff" stroke-width="0.5" text-anchor="middle" filter="url(#pielbl)">1</text>
<text x="1435" y="611.6" font-size="28.4" font-weight="bold" fill="#fff" stroke="#fff" stroke-width="0.5" text-anchor="middle" filter="url(#pielbl)">2</text>
<text x="1370" y="643.6" font-size="28.4" font-weight="bold" fill="#fff" stroke="#fff" stroke-width="0.5" text-anchor="middle" filter="url(#pielbl)">1</text>
<polygon fill="#7a0000" stroke="#7a0000" stroke-width="0.6" points="1039.6,709.9 1036.8,709.5 1033.9,709.0 1031.2,708.4 1028.4,707.7 1025.7,706.9 1023.1,706.0 1020.4,705.0 1017.9,703.9 1015.3,702.7 1012.9,701.4 1010.5,700.1 1008.1,698.6 1005.8,697.0 1003.5,695.4 1001.3,693.7 999.2,691.9 997.2,690.1 995.2,688.1 993.2,686.2 991.4,684.1 989.6,682.0 987.9,679.8 986.2,677.6 984.6,675.3 983.1,673.0 981.7,670.6 980.3,668.2 979.0,665.7 977.8,663.2 976.7,660.6 975.6,658.1 974.6,655.4 973.7,652.8 972.9,650.1 972.1,647.4 971.4,644.7 970.8,642.0 970.3,639.2 969.8,636.5 969.5,633.7 969.2,630.9 969.0,628.1 968.8,625.3 968.8,622.4 968.8,619.6 968.9,616.8 969.0,614.0 969.3,611.2 969.6,608.4 970.0,605.6 970.5,602.8 971.0,600.1 971.6,597.3 972.3,594.6 973.1,591.9 973.9,589.2 974.8,586.5 975.8,583.9 976.9,581.3 978.0,578.7 979.2,576.2 980.5,573.7 981.9,571.3 983.3,568.8 984.7,566.5 986.3,564.1 987.9,561.9 989.6,559.6 991.3,557.4 993.1,555.3 995.0,553.3 996.9,551.3 998.9,549.3 1001.0,547.4 1003.1,545.6 1005.2,543.9 1007.5,542.2 1009.7,540.6 1012.0,539.1 1014.4,537.7 1016.8,536.3 1019.3,535.0 1021.8,533.9 1024.3,532.8 1026.9,531.7 1029.6,530.8 1032.2,530.0 1034.9,529.3 1037.6,528.7 1040.4,528.1 1043.1,527.7 1045.9,527.4 1048.7,527.2 1051.6,527.1 1054.4,527.1 1064.3,533.9 1061.6,533.9 1058.9,533.9 1056.2,534.1 1053.6,534.3 1050.9,534.7 1048.3,535.2 1045.7,535.7 1043.1,536.4 1040.6,537.1 1038.0,538.0 1035.6,538.9 1033.1,539.9 1030.7,541.0 1028.3,542.2 1026.0,543.4 1023.7,544.8 1021.5,546.2 1019.3,547.7 1017.2,549.2 1015.1,550.9 1013.1,552.6 1011.1,554.3 1009.2,556.1 1007.3,558.0 1005.5,560.0 1003.8,562.0 1002.1,564.0 1000.5,566.1 999.0,568.2 997.5,570.4 996.0,572.7 994.7,575.0 993.4,577.3 992.2,579.6 991.0,582.0 989.9,584.5 988.9,586.9 987.9,589.4 987.1,591.9 986.2,594.5 985.5,597.0 984.8,599.6 984.2,602.2 983.7,604.8 983.3,607.4 982.9,610.1 982.6,612.7 982.4,615.4 982.2,618.1 982.1,620.7 982.1,623.4 982.2,626.1 982.3,628.7 982.6,631.4 982.9,634.0 983.2,636.7 983.7,639.3 984.2,641.9 984.8,644.5 985.5,647.1 986.2,649.6 987.0,652.1 987.9,654.6 988.9,657.1 989.9,659.5 991.0,661.9 992.2,664.3 993.5,666.6 994.8,668.9 996.2,671.2 997.6,673.4 999.2,675.5 1000.8,677.6 1002.4,679.7 1004.2,681.7 1006.0,683.6 1007.9,685.4 1009.8,687.3 1011.8,689.0 1013.8,690.7 1015.9,692.3 1018.1,693.8 1020.3,695.2 1022.6,696.6 1024.9,697.9 1027.3,699.1 1029.7,700.2 1032.2,701.2 1034.7,702.1 1037.3,703.0 1039.9,703.7 1042.5,704.4 1045.2,704.9 1047.8,705.4 1050.6,705.7"/>
<polygon fill="#1f5a30" stroke="#1f5a30" stroke-width="0.6" points="1054.4,527.1 1057.3,527.2 1060.2,527.5 1063.0,527.9 1065.9,528.3 1068.8,528.9 1071.7,529.7 1074.5,530.5 1077.4,531.5 1080.2,532.6 1083.0,533.8 1085.7,535.1 1088.4,536.6 1091.1,538.2 1093.7,539.9 1096.3,541.7 1098.8,543.6 1101.2,545.7 1103.6,547.8 1106.0,550.1 1108.2,552.5 1110.4,555.0 1112.5,557.6 1114.5,560.4 1116.4,563.2 1118.2,566.1 1119.9,569.1 1121.5,572.2 1123.0,575.3 1124.4,578.6 1125.7,581.9 1126.8,585.3 1127.8,588.7 1128.8,592.2 1129.6,595.7 1130.2,599.3 1130.7,603.0 1131.1,606.6 1131.4,610.3 1131.6,614.0 1131.6,617.7 1131.4,621.4 1131.2,625.1 1130.8,628.8 1130.2,632.5 1129.6,636.2 1128.8,639.8 1127.9,643.4 1126.8,646.9 1125.6,650.4 1124.4,653.9 1122.9,657.3 1121.4,660.6 1128.1,659.2 1129.5,656.1 1130.9,653.0 1132.1,649.8 1133.2,646.5 1134.1,643.2 1135.0,639.8 1135.7,636.4 1136.4,633.0 1136.9,629.6 1137.2,626.2 1137.5,622.7 1137.6,619.2 1137.6,615.8 1137.5,612.3 1137.2,608.9 1136.8,605.5 1136.3,602.1 1135.7,598.7 1134.9,595.4 1134.1,592.2 1133.1,588.9 1132.0,585.8 1130.8,582.7 1129.5,579.6 1128.1,576.7 1126.6,573.8 1124.9,571.0 1123.2,568.2 1121.4,565.6 1119.5,563.1 1117.6,560.6 1115.5,558.2 1113.4,556.0 1111.2,553.8 1108.9,551.8 1106.6,549.8 1104.2,548.0 1101.8,546.2 1099.3,544.6 1096.7,543.1 1094.2,541.7 1091.6,540.4 1088.9,539.3 1086.2,538.2 1083.5,537.3 1080.8,536.5 1078.1,535.7 1075.3,535.2 1072.6,534.7 1069.8,534.3 1067.1,534.0 1064.3,533.9"/>
<polygon fill="#16334e" stroke="#16334e" stroke-width="0.6" points="1121.4,660.6 1119.7,664.0 1117.9,667.2 1115.9,670.4 1113.9,673.5 1111.7,676.5 1109.5,679.4 1107.1,682.2 1104.7,684.9 1102.2,687.4 1099.6,689.8 1107.5,686.6 1110.0,684.3 1112.4,681.9 1114.7,679.4 1116.9,676.8 1119.0,674.1 1121.0,671.3 1123.0,668.4 1124.8,665.4 1126.5,662.4 1128.1,659.2"/>
<polygon fill="#05080e" stroke="#05080e" stroke-width="0.6" points="1099.6,689.8 1097.0,692.0 1094.4,694.1 1091.8,696.0 1089.1,697.9 1086.3,699.6 1083.5,701.2 1080.7,702.6 1077.8,703.9 1074.9,705.2 1072.0,706.2 1069.0,707.2 1066.1,708.0 1063.1,708.7 1060.1,709.3 1057.2,709.7 1054.2,710.1 1051.3,710.3 1048.3,710.4 1045.4,710.3 1042.5,710.2 1039.6,709.9 1050.6,705.7 1053.3,705.9 1056.1,706.0 1058.9,706.1 1061.7,706.0 1064.5,705.7 1067.3,705.4 1070.2,705.0 1073.0,704.4 1075.8,703.7 1078.6,703.0 1081.4,702.0 1084.2,701.0 1086.9,699.9 1089.6,698.6 1092.3,697.2 1095.0,695.7 1097.6,694.1 1100.2,692.4 1102.7,690.6 1105.1,688.6 1107.5,686.6"/>
<polygon fill="url(#rg46)" stroke="#f90000" stroke-width="0.5" stroke-linejoin="round" points="1039.6,617.4 1039.6,709.9 1037.5,709.6 1035.4,709.3 1033.3,708.9 1031.2,708.5 1029.1,707.9 1027.1,707.4 1025.1,706.7 1023.1,706.0 1021.1,705.3 1019.2,704.5 1017.3,703.7 1015.4,702.7 1013.5,701.8 1011.7,700.8 1009.9,699.7 1008.2,698.6 1006.4,697.5 1004.7,696.3 1003.1,695.1 1001.4,693.8 999.8,692.4 998.3,691.1 996.7,689.7 995.3,688.2 993.8,686.8 992.4,685.2 991.0,683.7 989.7,682.1 988.4,680.5 987.1,678.8 985.9,677.2 984.7,675.5 983.6,673.7 982.5,671.9 981.4,670.2 980.4,668.3 979.4,666.5 978.5,664.6 977.6,662.7 976.8,660.8 975.9,658.9 975.2,657.0 974.5,655.0 973.8,653.0 973.1,651.0 972.6,649.0 972.0,647.0 971.5,645.0 971.0,642.9 970.6,640.9 970.2,638.8 969.9,636.7 969.6,634.7 969.4,632.6 969.1,630.5 969.0,628.4 968.9,626.3 968.8,624.2 968.8,622.1 968.8,620.0 968.8,617.9 968.9,615.8 969.1,613.7 969.2,611.6 969.5,609.5 969.7,607.4 970.0,605.3 970.4,603.2 970.8,601.1 971.2,599.1 971.7,597.0 972.2,595.0 972.8,593.0 973.4,590.9 974.0,588.9 974.7,586.9 975.4,585.0 976.2,583.0 977.0,581.1 977.8,579.1 978.7,577.2 979.7,575.4 980.6,573.5 981.6,571.7 982.7,569.8 983.7,568.0 984.9,566.3 986.0,564.5 987.2,562.8 988.4,561.1 989.7,559.5 991.0,557.8 992.3,556.2 993.7,554.7 995.1,553.1 996.6,551.6 998.0,550.2 999.5,548.7 1001.1,547.3 1002.7,546.0 1004.3,544.7 1005.9,543.4 1007.6,542.1 1009.3,540.9 1011.0,539.8 1012.7,538.7 1014.5,537.6 1016.3,536.6 1018.1,535.6 1020.0,534.7 1021.9,533.8 1023.8,533.0 1025.7,532.2 1027.7,531.5 1029.6,530.8 1031.6,530.2 1033.6,529.6 1035.6,529.1 1037.7,528.7 1039.7,528.3 1041.8,527.9 1043.9,527.6 1045.9,527.4 1048.0,527.2 1050.2,527.1 1052.3,527.1 1054.4,527.1"/>
<polygon fill="url(#rg47)" stroke="#4be27a" stroke-width="0.5" stroke-linejoin="round" points="1039.6,617.4 1054.4,527.1 1056.5,527.2 1058.7,527.4 1060.8,527.6 1063.0,527.8 1065.1,528.2 1067.2,528.6 1069.4,529.1 1071.5,529.6 1073.6,530.2 1075.7,530.9 1077.8,531.7 1079.9,532.5 1082.0,533.3 1084.1,534.3 1086.1,535.3 1088.1,536.4 1090.1,537.5 1092.1,538.8 1094.0,540.1 1095.9,541.4 1097.8,542.8 1099.6,544.3 1101.5,545.9 1103.2,547.5 1105.0,549.1 1106.7,550.9 1108.3,552.7 1110.0,554.5 1111.5,556.4 1113.0,558.4 1114.5,560.4 1115.9,562.5 1117.3,564.7 1118.6,566.8 1119.9,569.1 1121.1,571.4 1122.2,573.7 1123.3,576.1 1124.3,578.5 1125.3,580.9 1126.2,583.4 1127.0,585.9 1127.8,588.5 1128.5,591.1 1129.1,593.7 1129.7,596.4 1130.2,599.0 1130.6,601.7 1130.9,604.4 1131.2,607.1 1131.4,609.9 1131.5,612.6 1131.6,615.4 1131.5,618.1 1131.4,620.9 1131.3,623.6 1131.0,626.4 1130.7,629.1 1130.3,631.9 1129.9,634.6 1129.3,637.3 1128.7,640.0 1128.1,642.7 1127.3,645.3 1126.5,648.0 1125.6,650.5 1124.7,653.1 1123.6,655.6 1122.6,658.1 1121.4,660.6"/>
<polygon fill="url(#rg48)" stroke="#49a4ea" stroke-width="0.5" stroke-linejoin="round" points="1039.6,617.4 1121.4,660.6 1120.2,663.0 1118.9,665.4 1117.6,667.7 1116.2,670.0 1114.8,672.2 1113.3,674.4 1111.7,676.5 1110.1,678.6 1108.5,680.6 1106.8,682.6 1105.1,684.5 1103.3,686.3 1101.4,688.1 1099.6,689.8"/>
<polygon fill="url(#rg49)" stroke="#173f68" stroke-width="0.5" stroke-linejoin="round" points="1039.6,617.4 1099.6,689.8 1097.7,691.5 1095.7,693.1 1093.8,694.6 1091.8,696.0 1089.7,697.4 1087.7,698.7 1085.6,700.0 1083.5,701.2 1081.4,702.3 1079.2,703.3 1077.1,704.3 1074.9,705.2 1072.7,706.0 1070.5,706.7 1068.3,707.4 1066.1,708.0 1063.8,708.6 1061.6,709.0 1059.4,709.4 1057.2,709.7 1055.0,710.0 1052.7,710.2 1050.5,710.3 1048.3,710.4 1046.1,710.4 1043.9,710.3 1041.8,710.1 1039.6,709.9"/>
<text x="990.5" y="623.6" font-size="28.4" font-weight="bold" fill="#fff" stroke="#fff" stroke-width="0.5" text-anchor="middle" filter="url(#pielbl)">9</text>
<text x="1091.1" y="596.3" font-size="28.4" font-weight="bold" fill="#fff" stroke="#fff" stroke-width="0.5" text-anchor="middle" filter="url(#pielbl)">5</text>
<text x="1085.8" y="665.5" font-size="28.4" font-weight="bold" fill="#fff" stroke="#fff" stroke-width="0.5" text-anchor="middle" filter="url(#pielbl)">1</text>
<text x="1059.8" y="685.7" font-size="28.4" font-weight="bold" fill="#fff" stroke="#fff" stroke-width="0.5" text-anchor="middle" filter="url(#pielbl)">2</text>
<text x="1272.7" y="255" font-size="28.5" fill="#000" textLength="176" lengthAdjust="spacingAndGlyphs" stroke="#f8f8f8" stroke-width="0.3">Regidors 2015</text>
<text x="957.7" y="508" font-size="28.5" fill="#000" textLength="172.6" lengthAdjust="spacingAndGlyphs" stroke="#f8f8f8" stroke-width="0.3">Regidors 2011</text>
</g>
<g id="legend">
<circle cx="213.2" cy="841.3" r="12.1" fill="#8c0f14"/>
<circle cx="303.7" cy="841.3" r="12.1" fill="#fb0007"/>
<text x="330.6" y="849.4" font-size="24.4" fill="#000" font-weight="bold" textLength="110.5" lengthAdjust="spacing" stroke="#000" stroke-width="0.35">ICV-EUiA</text>
<circle cx="503.8" cy="841.3" r="12.1" fill="#ff640f"/>
<text x="530.1" y="849.4" font-size="24.4" fill="#000" font-weight="bold" textLength="56" lengthAdjust="spacing" stroke="#000" stroke-width="0.35">CUP</text>
<circle cx="648.6" cy="841.3" r="12.1" fill="#f0b40a"/>
<text x="674.9" y="849.4" font-size="24.4" fill="#000" font-weight="bold" textLength="55.3" lengthAdjust="spacing" stroke="#000" stroke-width="0.35">ERC</text>
<circle cx="792.4" cy="841.3" r="12.1" fill="#2daa55"/>
<text x="818.9" y="849.4" font-size="24.4" fill="#000" font-weight="bold" textLength="53" lengthAdjust="spacing" stroke="#000" stroke-width="0.35">PSC</text>
<circle cx="934.8" cy="841.3" r="12.1" fill="#3c87c8"/>
<text x="961.9" y="849.4" font-size="24.4" fill="#000" font-weight="bold" textLength="44.4" lengthAdjust="spacing" stroke="#000" stroke-width="0.35">CiU</text>
<circle cx="1069.7" cy="841.3" r="12.1" fill="#323c50"/>
<text x="1096.8" y="849.4" font-size="24.4" fill="#000" font-weight="bold" textLength="40.1" lengthAdjust="spacing" stroke="#000" stroke-width="0.35">C`s</text>
<circle cx="1199.4" cy="841.3" r="12.1" fill="#0d2f5f"/>
<text x="1226.5" y="849.4" font-size="24.4" fill="#000" font-weight="bold" textLength="34" lengthAdjust="spacing" stroke="#000" stroke-width="0.35">PP</text>
<circle cx="1323.9" cy="841.3" r="12.1" fill="#000000"/>
<text x="1350.0" y="849.4" font-size="24.4" fill="#000" font-weight="bold" textLength="50.6" lengthAdjust="spacing" stroke="#000" stroke-width="0.35">PxC</text>
<text x="110" y="891" font-size="24.6" fill="#000" textLength="1379" lengthAdjust="spacing" stroke="#000" stroke-width="0.3">* En aquest municipi no s’han elaborat candidatures d’Unitat i ICV-EUiA s’ha presentat en coalició en les eleccions del 2015</text>
</g>
</svg>
</body>
</html>
